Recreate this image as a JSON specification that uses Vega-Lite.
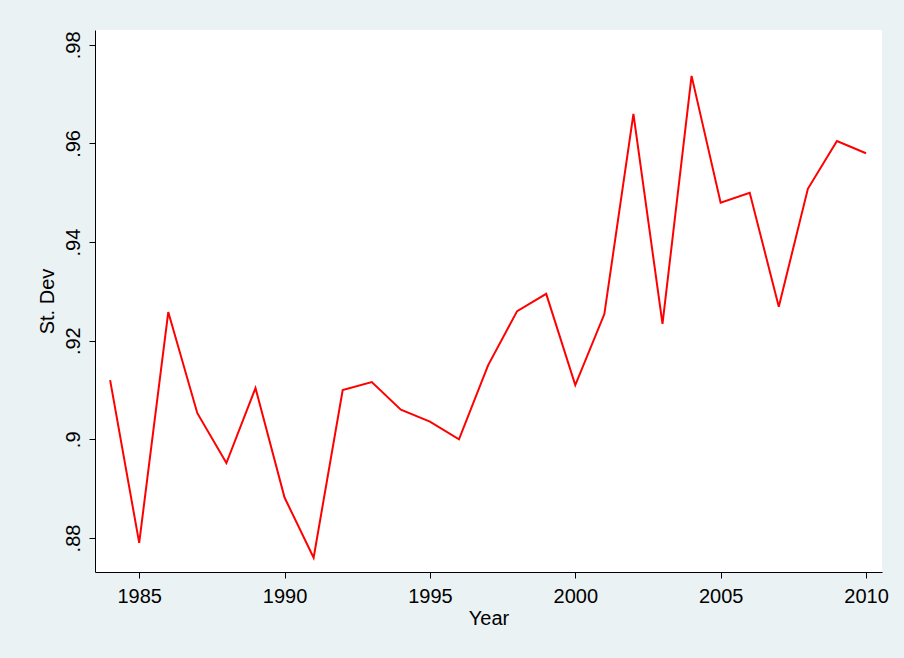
{
"$schema":"https://vega.github.io/schema/vega-lite/v6.json",
"width":787,"height":542,
"autosize":{"type":"none"},
"padding":{"left":95,"top":30,"right":22,"bottom":86},
"background":"#eaf2f3",
"config":{"view":{"stroke":null,"fill":"white"},"font":"Liberation Sans"},
"data":{"values":[
{"Year":1984,"v":0.912},{"Year":1985,"v":0.879},{"Year":1986,"v":0.9258},{"Year":1987,"v":0.9053},
{"Year":1988,"v":0.8952},{"Year":1989,"v":0.9104},{"Year":1990,"v":0.8882},{"Year":1991,"v":0.876},
{"Year":1992,"v":0.910},{"Year":1993,"v":0.9116},{"Year":1994,"v":0.906},{"Year":1995,"v":0.9036},
{"Year":1996,"v":0.900},{"Year":1997,"v":0.915},{"Year":1998,"v":0.926},{"Year":1999,"v":0.9295},
{"Year":2000,"v":0.911},{"Year":2001,"v":0.9254},{"Year":2002,"v":0.966},{"Year":2003,"v":0.9234},
{"Year":2004,"v":0.9737},{"Year":2005,"v":0.948},{"Year":2006,"v":0.950},{"Year":2007,"v":0.9269},
{"Year":2008,"v":0.9508},{"Year":2009,"v":0.9605},{"Year":2010,"v":0.958}
]},
"mark":{"type":"line","color":"#ff0000","strokeWidth":2},
"encoding":{
"x":{"field":"Year","type":"quantitative","scale":{"domain":[1983.48,2010.55],"nice":false,"zero":false},
"axis":{"values":[1985,1990,1995,2000,2005,2010],"format":"d","grid":false,"domainColor":"black","tickColor":"black","tickSize":6,"labelFontSize":20,"labelColor":"black","title":"Year","titleFontSize":20,"titleFontWeight":"normal","titleColor":"black","titlePadding":2,"labelPadding":8}},
"y":{"field":"v","type":"quantitative","scale":{"domain":[0.8731,0.983],"nice":false,"zero":false},
"axis":{"values":[0.88,0.9,0.92,0.94,0.96,0.98],"labelExpr":"replace(format(datum.value,'.2~f'),'0.','.')","grid":false,"domainColor":"black","tickColor":"black","tickSize":6,"labelFontSize":20,"labelColor":"black","labelAngle":270,"labelAlign":"center","labelBaseline":"bottom","labelPadding":6,"title":"St. Dev","titleFontSize":20,"titleFontWeight":"normal","titleColor":"black","titlePadding":6}}
}
}
